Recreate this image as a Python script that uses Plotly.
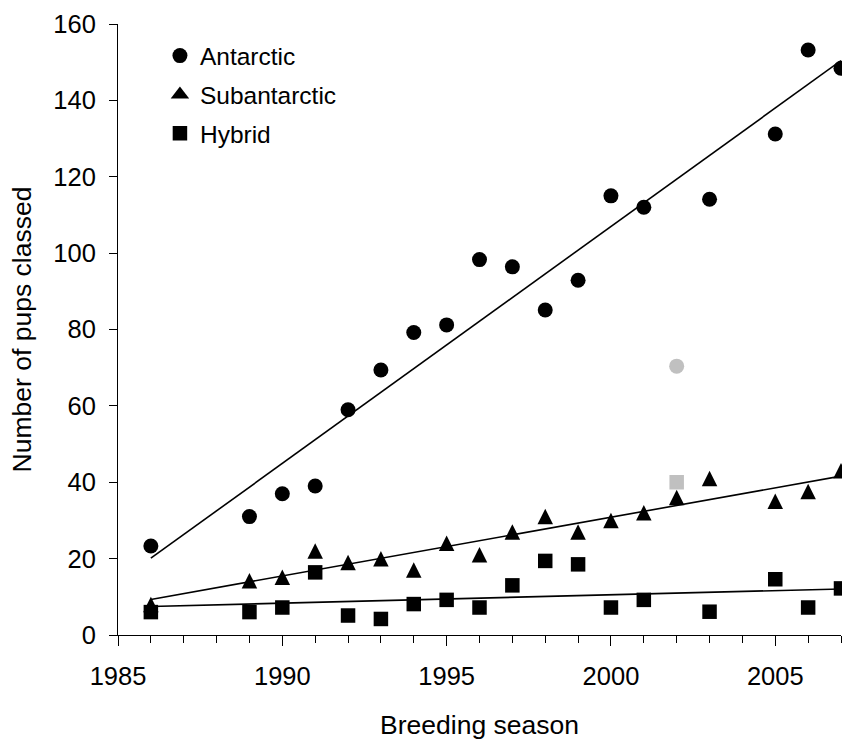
import numpy as np
import plotly.graph_objects as go

# ---- data ----
years_ant = [1986, 1989, 1990, 1991, 1992, 1993, 1994, 1995, 1996, 1997, 1998, 1999,
             2000, 2001, 2003, 2005, 2006, 2007]
antarctic = [23.3, 31, 37, 39, 59, 69.4, 79.2, 81.2, 98.3, 96.4, 85.1, 92.9,
             115, 112, 114.1, 131.2, 153.2, 148.4]

years_sub = [1986, 1989, 1990, 1991, 1992, 1993, 1994, 1995, 1996, 1997, 1998, 1999,
             2000, 2001, 2002, 2003, 2005, 2006, 2007]
subantarctic = [8, 14.2, 15.1, 22, 19, 20, 17, 24, 21, 27, 31, 27,
                30, 32, 36, 41, 35, 37.6, 43]

years_hyb = [1986, 1989, 1990, 1991, 1992, 1993, 1994, 1995, 1996, 1997, 1998, 1999,
             2000, 2001, 2003, 2005, 2006, 2007]
hybrid = [6, 6, 7.2, 16.4, 5.1, 4.2, 8.1, 9.2, 7.2, 13, 19.4, 18.5,
          7.2, 9.2, 6.1, 14.6, 7.2, 12.2]

grey_years = [2002]
grey_antarctic = [70.4]
grey_hybrid = [40]

trend_span = [1986, 2007]
x_ticks = [1985, 1990, 1995, 2000, 2005]
y_ticks = [0, 20, 40, 60, 80, 100, 120, 140, 160]

FONT = "Liberation Sans, Arial, sans-serif"
GREY = "#C0C0C0"
MS = 15

fig = go.Figure()

def trend(xs, ys):
    k, b = np.polyfit(xs, ys, 1)
    return [k * x + b for x in trend_span]

for xs, ys in [(years_ant, antarctic), (years_sub, subantarctic), (years_hyb, hybrid)]:
    fig.add_trace(go.Scatter(x=trend_span, y=trend(xs, ys), mode="lines",
                             line=dict(color="black", width=1.6),
                             showlegend=False, hoverinfo="skip", cliponaxis=False))

fig.add_trace(go.Scatter(x=years_ant, y=antarctic, mode="markers", name="Antarctic",
                         legendgroup="a",
                         marker=dict(symbol="circle", size=MS, color="black", line=dict(width=0)),
                         cliponaxis=False))
# triangles (centred arrow shape, close to the reference's near-equilateral triangle)
fig.add_trace(go.Scatter(x=years_sub, y=subantarctic, mode="markers", name="Subantarctic",
                         legendgroup="b", showlegend=False,
                         marker=dict(symbol="arrow-down", angle=180, standoff=7.75, size=15.5,
                                     color="black", line=dict(width=0)),
                         cliponaxis=False))
# legend entry for the triangles
fig.add_trace(go.Scatter(x=[None], y=[None], mode="markers", name="Subantarctic",
                         legendgroup="b",
                         marker=dict(symbol="triangle-up", size=16, color="black", line=dict(width=0))))
fig.add_trace(go.Scatter(x=years_hyb, y=hybrid, mode="markers", name="Hybrid",
                         legendgroup="c",
                         marker=dict(symbol="square", size=14.5, color="black", line=dict(width=0)),
                         cliponaxis=False))
fig.add_trace(go.Scatter(x=grey_years, y=grey_antarctic, mode="markers", showlegend=False,
                         marker=dict(symbol="circle", size=MS, color=GREY, line=dict(width=0)),
                         cliponaxis=False))
fig.add_trace(go.Scatter(x=grey_years, y=grey_hybrid, mode="markers", showlegend=False,
                         marker=dict(symbol="square", size=14.5, color=GREY, line=dict(width=0)),
                         cliponaxis=False))

fig.update_layout(
    width=842, height=740,
    margin=dict(l=118, r=1, t=24, b=105),
    paper_bgcolor="white", plot_bgcolor="white",
    font=dict(family=FONT, size=25, color="black"),
    showlegend=True,
    legend=dict(x=0.058, y=0.985, xanchor="left", yanchor="top",
                bgcolor="rgba(0,0,0,0)", borderwidth=0,
                font=dict(family=FONT, size=24.5, color="black"),
                tracegroupgap=4, itemsizing="trace"),
)

fig.update_xaxes(
    range=[1985, 2007], tickvals=x_ticks, ticktext=[str(v) for v in x_ticks],
    automargin=False,
    showline=True, linecolor="black", linewidth=1,
    ticks="outside", ticklen=10, tickwidth=1, tickcolor="black",
    minor=dict(dtick=1, tick0=1985, ticks="outside", ticklen=7, tickwidth=1, tickcolor="black",
               showgrid=False),
    showgrid=False, zeroline=False,
    ticklabelstandoff=8,
    tickfont=dict(family=FONT, size=25.5, color="black"),
    title=dict(text="Breeding season", font=dict(family=FONT, size=26.5, color="black"), standoff=26),
)
fig.update_yaxes(
    range=[0, 160], tickvals=y_ticks,
    automargin=False,
    showline=True, linecolor="black", linewidth=1,
    ticks="outside", ticklen=8, tickwidth=1, tickcolor="black",
    showgrid=False, zeroline=False,
    ticklabelstandoff=8,
    tickfont=dict(family=FONT, size=25.5, color="black"),
    title=dict(text="Number of pups classed", font=dict(family=FONT, size=26.5, color="black"), standoff=14),
)

# remove the default 8 px page margin so the 842x740 figure fills the window exactly
fig.write_html(
    "out.html",
    config={"displayModeBar": False},
    post_script="document.body.style.margin='0';document.body.style.overflow='hidden';",
)
